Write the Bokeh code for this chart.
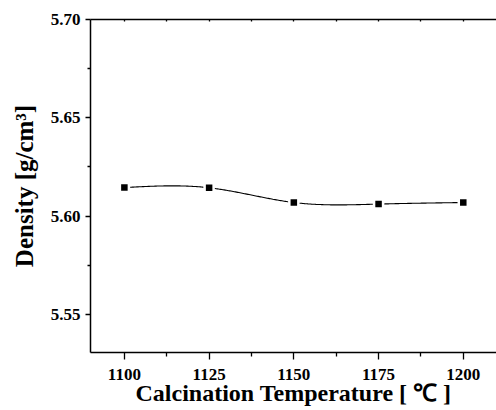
import numpy as np
from bokeh.plotting import figure
from bokeh.models import (LinearAxis, FixedTicker, Range1d, NumeralTickFormatter,
                          ColumnDataSource, CustomJSTickFormatter)
from bokeh.embed import file_html
from bokeh.resources import INLINE

temperature = [1100, 1125, 1150, 1175, 1200]
density = [5.6145, 5.6144, 5.6069, 5.6061, 5.6069]
x_ticks = [1100, 1125, 1150, 1175, 1200]
x_minor = [1112.5, 1137.5, 1162.5, 1187.5]
y_ticks = [5.55, 5.60, 5.65, 5.70]
y_minor = [5.575, 5.625, 5.675]


def natural_spline(xs, ys, n=300):
    xs = np.asarray(xs, float)
    ys = np.asarray(ys, float)
    k = len(xs)
    h = np.diff(xs)
    A = np.zeros((k, k))
    b = np.zeros(k)
    A[0, 0] = 1
    A[-1, -1] = 1
    for i in range(1, k - 1):
        A[i, i - 1] = h[i - 1]
        A[i, i] = 2 * (h[i - 1] + h[i])
        A[i, i + 1] = h[i]
        b[i] = 6 * ((ys[i + 1] - ys[i]) / h[i] - (ys[i] - ys[i - 1]) / h[i - 1])
    M = np.linalg.solve(A, b)
    xx = np.linspace(xs[0], xs[-1], n)
    yy = np.empty_like(xx)
    for j, x in enumerate(xx):
        i = min(np.searchsorted(xs, x) - 1, k - 2)
        i = max(i, 0)
        t1 = xs[i + 1] - x
        t0 = x - xs[i]
        hi = h[i]
        yy[j] = (M[i] * t1 ** 3 / (6 * hi) + M[i + 1] * t0 ** 3 / (6 * hi)
                 + (ys[i] / hi - M[i] * hi / 6) * t1
                 + (ys[i + 1] / hi - M[i + 1] * hi / 6) * t0)
    return xx, yy


FONT = "Liberation Serif"

p = figure(width=496, height=410, output_backend="svg", toolbar_location=None,
           x_range=Range1d(1090, 1209.8), y_range=Range1d(5.5306, 5.70),
           x_axis_location=None, y_axis_location=None,
           min_border_left=90, min_border_right=0, min_border_top=19, min_border_bottom=58)
p.outline_line_color = None
p.grid.visible = False
p.background_fill_color = "white"
p.border_fill_color = "white"

sx, sy = natural_spline(temperature, density)
p.line(sx, sy, line_color="black", line_width=1.1)
src = ColumnDataSource(dict(x=temperature, y=density))
p.scatter("x", "y", source=src, marker="square", size=9, fill_color="black",
          line_color="white", line_width=2.5)


def style(ax):
    ax.axis_line_color = "black"
    ax.axis_line_width = 1.5
    ax.major_tick_line_color = "black"
    ax.minor_tick_line_color = "black"
    ax.major_tick_line_width = 1.3
    ax.minor_tick_line_width = 1.3
    ax.major_label_text_font = FONT
    ax.major_label_text_font_style = "bold"
    ax.major_label_text_font_size = "17px"
    ax.major_label_text_color = "black"
    ax.axis_label_text_font = FONT
    ax.axis_label_text_font_style = "bold"
    ax.axis_label_text_font_size = "24px"
    ax.axis_label_text_color = "black"


yax = LinearAxis(ticker=FixedTicker(ticks=y_ticks, minor_ticks=y_minor),
                 formatter=NumeralTickFormatter(format="0.00"),
                 axis_label="Density [g/cm³]")
style(yax)
yax.axis_label_text_font_size = "25px"
yax.major_tick_out = 5
yax.major_tick_in = 0
yax.minor_tick_out = 3
yax.minor_tick_in = 0
yax.major_label_standoff = 5
yax.axis_label_standoff = 10
p.add_layout(yax, "left")

xax = LinearAxis(ticker=FixedTicker(ticks=x_ticks, minor_ticks=x_minor),
                 axis_label="Calcination Temperature [ ℃ ]")
style(xax)
xax.major_tick_out = 7
xax.major_tick_in = 0
xax.minor_tick_out = 4
xax.minor_tick_in = 0
xax.major_label_standoff = 9
xax.axis_label_standoff = -3
p.add_layout(xax, "below")

tax = LinearAxis(ticker=FixedTicker(ticks=x_ticks, minor_ticks=x_minor),
                 formatter=CustomJSTickFormatter(code="return ''"))
style(tax)
tax.major_tick_out = 0
tax.major_tick_in = 2
tax.minor_tick_out = 0
tax.minor_tick_in = 2
tax.major_label_standoff = 0
p.add_layout(tax, "above")

open("out.html", "w").write(file_html(p, INLINE))
